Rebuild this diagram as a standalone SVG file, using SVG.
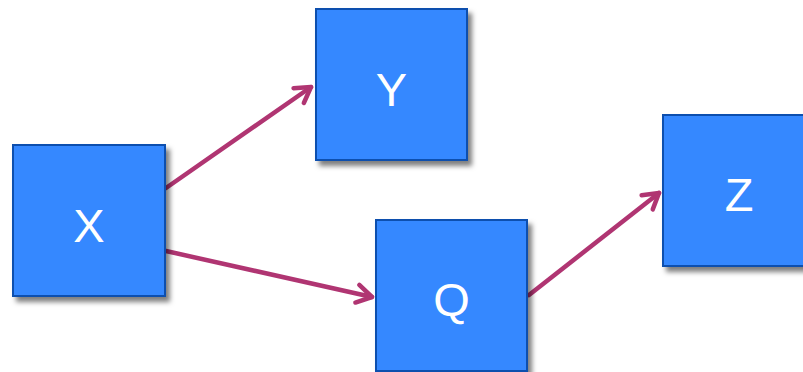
<svg xmlns="http://www.w3.org/2000/svg" width="803" height="372" viewBox="0 0 803 372">
<defs>
<style>
.box{fill:#3688ff;stroke:#0b4fae;stroke-width:2;filter:url(#sh)}
.lbl{fill:#ffffff;font-family:"Liberation Sans",Arial,sans-serif;font-size:47px;text-anchor:middle}
.edge{stroke:#b03572;stroke-width:4.5;fill:none;stroke-linecap:round;marker-end:url(#ah)}
</style>
<filter id="sh" x="-10%" y="-10%" width="130%" height="130%">
<feDropShadow dx="4" dy="5" stdDeviation="2.5" flood-color="#000000" flood-opacity="0.5"/>
</filter>
<marker id="ah" markerUnits="userSpaceOnUse" viewBox="-20 -12 24 24" refX="0" refY="0" markerWidth="24" markerHeight="24" orient="auto">
<path d="M-15,-9 L0,0 L-15,9" fill="none" stroke="#b03572" stroke-width="4.5" stroke-linecap="round" stroke-linejoin="round"/>
</marker>
</defs>
<g id="connectors">
<path class="edge" d="M166,188 L311,87"/>
<path class="edge" d="M166,251 L372,297"/>
<path class="edge" d="M529,295 L659,193"/>
</g>
<g id="node-X">
<rect class="box" x="13" y="145" width="152" height="151"/>
<text class="lbl" x="89" y="242">X</text>
</g>
<g id="node-Y">
<rect class="box" x="316" y="9" width="151" height="151"/>
<text class="lbl" x="391.5" y="106">Y</text>
</g>
<g id="node-Q">
<rect class="box" x="376" y="220" width="151" height="151"/>
<text class="lbl" x="451.5" y="316">Q</text>
</g>
<g id="node-Z">
<rect class="box" x="663" y="115" width="151" height="151"/>
<text class="lbl" x="739" y="211">Z</text>
</g>
</svg>
